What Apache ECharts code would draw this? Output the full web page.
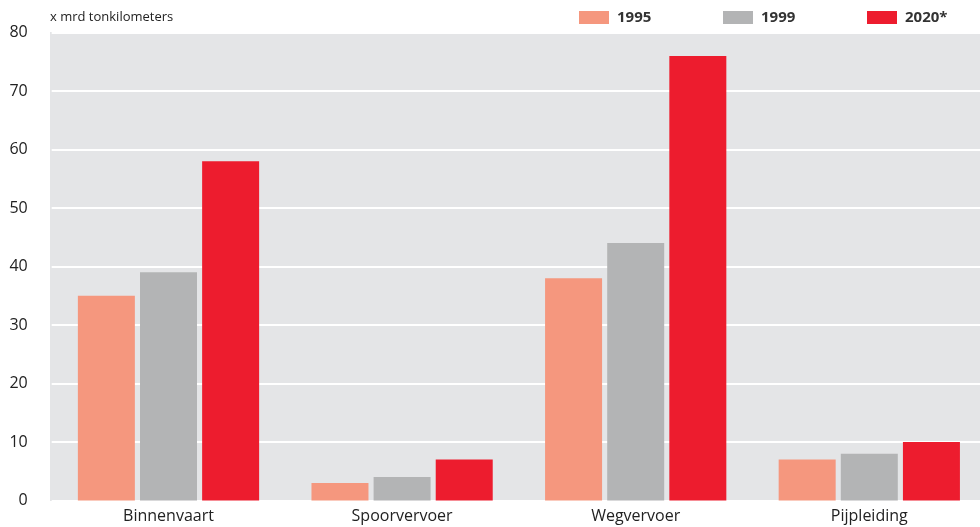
<!DOCTYPE html>
<html><head><meta charset="utf-8">
<script src="https://cdn.jsdelivr.net/npm/echarts@6/dist/echarts.min.js"></script>
<style>html,body{margin:0;padding:0;background:#fff}#c{width:980px;height:527px}</style>
</head><body><div id="c"></div>
<script>
const categories = ['Binnenvaart', 'Spoorvervoer', 'Wegvervoer', 'Pijpleiding'];
const seriesNames = ['1995', '1999', '2020*'];
const values1995 = [35, 3, 38, 7];
const values1999 = [39, 4, 44, 8];
const values2020 = [58, 7, 76, 10];
const yTicks = [0, 10, 20, 30, 40, 50, 60, 70, 80];
const colors = ['#f5977e', '#b3b4b5', '#ed1c2e'];
const legendLeft = [579, 723, 867];
const font = '"Open Sans", "Noto Sans", sans-serif';

const chart = echarts.init(document.getElementById('c'), null, {renderer: 'canvas'});
const data = [values1995, values1999, values2020];
chart.setOption({
  animation: false,
  backgroundColor: '#fff',
  graphic: [{type: 'rect', left: 50, top: 32, shape: {width: 930, height: 469}, style: {fill: '#e4e5e7'}, z: -10}],
  title: {text: 'x mrd tonkilometers', left: 45, top: 6,
    textStyle: {fontFamily: font, fontSize: 13, fontWeight: 'normal', color: '#222'}},
  legend: seriesNames.map((n, i) => ({
    left: legendLeft[i], top: 10, padding: 0, itemWidth: 30, itemHeight: 13, itemGap: 5,
    icon: 'rect',
    textStyle: {fontFamily: font, fontSize: 15, fontWeight: 'bold', color: '#333', padding: [0,0,0,3]},
    data: [n]
  })),
  grid: {left: 51.7, width: 934.4, top: 32.5, height: 468, containLabel: false,
    outerBoundsMode: 'none', show: false},
  xAxis: {type: 'category', data: categories,
    axisLine: {show: false}, axisTick: {show: false},
    axisLabel: {fontFamily: font, fontSize: 16, color: '#222', margin: 8}},
  yAxis: {type: 'value', min: yTicks[0], max: yTicks[yTicks.length-1], interval: 10,
    axisLine: {show: false}, axisTick: {show: false},
    axisLabel: {fontFamily: font, fontSize: 16, color: '#222', margin: 24},
    splitLine: {lineStyle: {color: '#ffffff', width: 2}}},
  series: seriesNames.map((n, i) => ({
    name: n, type: 'bar', data: data[i], barWidth: 57, barGap: '9%',
    itemStyle: {color: colors[i]}
  }))
});
</script></body></html>
